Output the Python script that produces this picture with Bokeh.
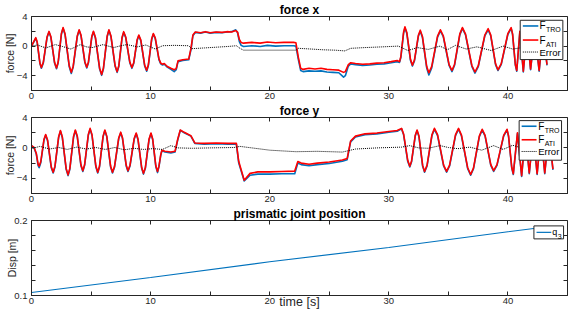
from bokeh.plotting import figure
from bokeh.models import Range1d, FixedTicker, LinearAxis, Label
from bokeh.layouts import column
from bokeh.embed import file_html
from bokeh.resources import INLINE

# ---------------- data ----------------
# force x : time, F_ATI (red), F_TRO (blue)
t_fx = [0.0, 0.36, 0.48, 0.71, 0.83, 0.99, 1.31, 1.47, 1.63, 1.94, 2.1, 2.24, 2.51, 2.65, 2.82, 3.17, 3.34, 3.5, 3.84, 4.0,
        4.16, 4.48, 4.64, 4.78, 5.06, 5.2, 5.37, 5.72, 5.89, 6.04, 6.35, 6.5, 6.67, 7.02, 7.19, 7.33, 7.6, 7.74, 7.91, 8.26,
        8.43, 8.58, 8.87, 9.01, 9.18, 9.5, 9.67, 9.81, 10.09, 10.23, 10.39, 10.7,
        10.85, 11.0, 11.15, 11.4, 11.7, 11.98, 12.15, 12.3, 12.7, 13.2, 13.4, 13.55, 13.75,
        14.2, 14.6, 15.0, 15.5, 16.0, 16.4, 16.8, 17.15, 17.3, 17.45, 17.6, 17.8, 18.5, 19.2, 19.8, 20.5, 21.2, 22.0, 22.2,
        22.4, 22.6, 22.8, 23.3, 23.8, 24.3, 24.8, 25.3, 25.8, 26.2, 26.35, 26.6, 26.8, 27.2, 27.8, 28.4, 29.0, 29.6, 30.2, 30.7, 30.9,
        31.01, 31.24, 31.35, 31.51, 31.82, 31.98, 32.15, 32.48, 32.64, 32.82, 33.18, 33.36, 33.6, 34.09, 34.33,
        34.57, 35.06, 35.3, 35.52, 35.96, 36.18, 36.44, 36.97, 37.23, 37.51, 38.06, 38.34, 38.55, 38.96, 39.16,
        39.44, 39.99, 40.27, 40.39, 40.62, 40.74, 41.0, 41.29, 41.6, 41.9, 42.25, 42.62, 42.95, 43.28]
fx_ati = [0.0, 1.14, 0.55, -2.31, -2.9, -2.19, 1.27, 1.98, 1.26, -2.23, -2.95, -2.15, 1.7, 2.5, 1.62, -2.67, -3.55, -2.71, 1.36, 2.2,
          1.46, -2.11, -2.85, -2.14, 1.29, 2.0, 1.15, -2.99, -3.84, -2.96, 1.32, 2.2, 1.38, -2.63, -3.45, -2.66, 1.16, 1.95, 1.24, -2.19,
          -2.9, -2.26, 0.86, 1.5, 0.81, -2.56, -3.25, -2.53, 0.98, 1.7, 1.12, -1.72,
          -2.3, -2.45, -2.35, -2.75, -3.0, -3.2, -3.05, -2.0, -1.85, -1.75, -0.2, 1.5, 1.9,
          1.8, 1.95, 1.8, 1.9, 1.85, 1.95, 1.9, 2.1, 1.9, 0.9, 0.5, 0.4, 0.5, 0.4, 0.55, 0.45, 0.5, 0.5, 0.45,
          -1.5, -3.0, -3.15, -3.0, -3.1, -3.0, -3.15, -3.2, -3.25, -3.55, -3.45, -2.5, -2.25, -2.35, -2.45, -2.4, -2.3, -2.25, -2.1, -1.95, -2.1,
          -1.41, 1.91, 2.6, 1.85, -1.82, -2.57, -1.88, 1.46, 2.15, 1.31, -2.76, -3.6, -2.75, 1.35, 2.2,
          1.4, -2.5, -3.3, -2.45, 1.65, 2.5, 1.62, -2.62, -3.5, -2.65, 1.5, 2.35, 1.54, -2.39, -3.2,
          -2.37, 1.67, 2.5, 1.65, -2.45, -3.3, 2.0, -3.4, 2.0, -3.1, 2.0, -3.3, 2.0, -2.5]
fx_tro = [0.0, 1.05, 0.45, -2.4, -3.0, -2.3, 1.17, 1.9, 1.16, -2.33, -3.05, -2.25, 1.6, 2.4, 1.52, -2.8, -3.7, -2.84, 1.26, 2.1,
          1.36, -2.21, -2.95, -2.24, 1.19, 1.9, 1.05, -3.1, -3.95, -3.06, 1.22, 2.1, 1.28, -2.73, -3.55, -2.76, 1.06, 1.85, 1.14, -2.29,
          -3.0, -2.36, 0.76, 1.4, 0.71, -2.68, -3.4, -2.65, 0.88, 1.6, 1.02, -1.82,
          -2.4, -2.55, -2.45, -2.85, -3.15, -3.45, -3.2, -2.1, -1.95, -1.85, -0.4, 1.4, 1.85,
          1.75, 1.9, 1.75, 1.85, 1.8, 1.9, 1.95, 2.2, 1.8, 0.6, 0.1, -0.05, 0.05, -0.05, 0.1, 0.0, 0.05, 0.05, 0.0,
          -1.8, -3.3, -3.45, -3.35, -3.4, -3.35, -3.5, -3.55, -3.6, -4.2, -4.0, -2.7, -2.4, -2.5, -2.6, -2.55, -2.45, -2.4, -2.25, -2.1, -2.2,
          -1.55, 1.75, 2.45, 1.7, -1.95, -2.7, -2.0, 1.32, 2.0, 1.18, -2.95, -3.9, -2.95, 1.22, 2.05,
          1.28, -2.62, -3.45, -2.58, 1.52, 2.4, 1.5, -2.75, -3.65, -2.78, 1.38, 2.2, 1.42, -2.5, -3.3,
          -2.48, 1.55, 2.4, 1.55, -2.55, -3.4, 1.9, -3.5, 1.9, -3.2, 1.9, -3.4, 1.9, -2.6]
t_ex = [0.0, 0.5, 1.2, 2.0, 2.6, 3.3, 4.1, 4.6, 5.1, 6.0, 6.9, 7.5, 8.0, 8.9, 9.6, 10.4, 11.0, 12.0, 13.2, 13.45,
        14.5, 15.5, 16.5, 17.2, 17.5, 17.8, 19.0, 20.5, 22.2, 22.4, 23.5, 24.5, 25.5, 26.3, 26.8, 28.0, 29.5, 30.8, 31.6, 32.4,
        33.3, 34.3, 34.9, 35.6, 36.5, 37.4, 38.6, 39.6, 40.4, 41.2, 42.0, 42.8, 43.28]
ex = [0.0, 0.15, -0.25, 0.2, -0.05, -0.4, 0.2, -0.1, -0.2, 0.2, -0.2, 0.05, 0.2, -0.1, 0.15, -0.4, 0.05, 0.1, 0.05, -0.35,
      -0.25, -0.15, -0.05, 0.05, -0.3, -0.55, -0.55, -0.55, -0.55, -0.3, -0.4, -0.5, -0.55, -0.65, -0.3, -0.2, -0.1, 0.0, -0.6, -0.2,
      -0.45, 0.0, -0.5, 0.1, -0.4, -0.1, -0.6, 0.0, -0.4, -0.2, -0.1, -0.3, -0.2]

# force y
t_fy = [0.0, 0.22, 0.4, 0.55, 0.64, 0.78, 1.05, 1.19, 1.35, 1.66, 1.82, 1.97, 2.28, 2.43, 2.59, 2.91, 3.07, 3.22, 3.53, 3.68,
        3.84, 4.15, 4.31, 4.46, 4.77, 4.92, 5.08, 5.4, 5.56, 5.71, 6.01, 6.16, 6.32, 6.64, 6.8, 6.97, 7.32, 7.49, 7.64, 7.95,
        8.1, 8.27, 8.62, 8.79, 8.94, 9.25, 9.4, 9.56, 9.87, 10.03, 10.17, 10.44, 10.58, 10.7, 10.85,
        10.95, 11.2, 11.7, 12.05, 12.27, 12.49, 12.82, 13.38, 13.71, 14.5, 15.5, 16.5, 17.2, 17.4, 17.86, 18.35, 19.0, 20.0, 21.0, 22.1,
        22.36, 22.64, 23.3, 24.0, 25.0, 26.1, 26.5, 26.79, 27.2, 28.0, 29.0, 30.0, 30.7, 31.07,
        31.24, 31.59, 31.76, 31.91, 32.22, 32.37, 32.53, 32.84, 33.0, 33.21, 33.62, 33.83, 34.09, 34.6, 34.85,
        35.1, 35.6, 35.85, 36.1, 36.62, 36.87, 37.11, 37.6, 37.84, 38.08, 38.56, 38.8, 39.08, 39.64, 39.92,
        40.05, 40.32, 40.45, 40.8, 41.15, 41.47, 41.79, 42.12, 42.45, 42.77, 43.09, 43.43, 43.78]
fy_ati = [0.3, 0.05, -0.7, -2.1, -2.4, -1.79, 1.14, 1.75, 1.03, -2.48, -3.2, -2.4, 1.48, 2.28, 1.43, -2.7, -3.55, -2.69, 1.5, 2.36,
          1.58, -2.22, -3.0, -2.19, 1.76, 2.57, 1.73, -2.36, -3.2, -2.39, 1.55, 2.36, 1.55, -2.39, -3.2, -2.43, 1.3, 2.07, 1.33, -2.26,
          -3.0, -2.28, 1.23, 1.95, 1.18, -2.58, -3.35, -2.58, 1.18, 1.95, 1.21, -2.36, -3.1, -2.4, -0.9,
          -0.3, -0.45, -0.55, -0.45, 1.1, 2.35, 2.05, 1.6, 0.65, 0.6, 0.65, 0.6, 0.6, -1.8, -4.25, -3.35, -3.15, -3.15, -3.1, -3.05,
          -1.8, -2.0, -2.15, -2.0, -1.85, -1.6, -1.4, 0.9, 1.55, 1.85, 1.95, 2.15, 2.3, 2.57,
          1.84, -1.67, -2.4, -1.71, 1.67, 2.36, 1.56, -2.3, -3.1, -2.27, 1.74, 2.57, 1.74, -2.27, -3.1,
          -2.27, 1.74, 2.57, 1.68, -2.61, -3.5, -2.63, 1.58, 2.45, 1.65, -2.2, -3.0, -2.2, 1.65, 2.45,
          1.6, -2.55, -3.4, 2.0, -3.65, 2.0, -3.3, 2.0, -3.4, 2.0, -3.3, 2.0, -2.8]
fy_tro = [0.3, 0.0, -0.8, -2.3, -2.6, -1.95, 1.04, 1.65, 0.93, -2.6, -3.3, -2.5, 1.38, 2.2, 1.33, -2.82, -3.65, -2.8, 1.4, 2.25,
          1.48, -2.34, -3.1, -2.3, 1.66, 2.45, 1.63, -2.47, -3.3, -2.5, 1.45, 2.25, 1.45, -2.5, -3.3, -2.54, 1.2, 1.95, 1.23, -2.37,
          -3.1, -2.39, 1.13, 1.85, 1.08, -2.69, -3.45, -2.69, 1.08, 1.85, 1.11, -2.5, -3.25, -2.5, -1.0,
          -0.35, -0.55, -0.65, -0.55, 1.0, 2.3, 2.0, 1.55, 0.6, 0.5, 0.55, 0.5, 0.5, -2.0, -4.35, -3.6, -3.45, -3.45, -3.4, -3.4,
          -2.0, -2.2, -2.35, -2.2, -2.05, -1.75, -1.55, 0.8, 1.45, 1.75, 1.85, 2.05, 2.2, 2.5,
          1.72, -1.8, -2.5, -1.82, 1.56, 2.25, 1.45, -2.42, -3.2, -2.38, 1.62, 2.45, 1.62, -2.38, -3.2,
          -2.38, 1.62, 2.45, 1.56, -2.72, -3.6, -2.74, 1.47, 2.35, 1.54, -2.3, -3.1, -2.3, 1.54, 2.35,
          1.5, -2.66, -3.5, 1.9, -3.75, 1.9, -3.4, 1.9, -3.5, 1.9, -3.4, 1.9, -2.9]
t_ey = [0.0, 0.7, 1.5, 2.3, 3.0, 3.8, 4.6, 5.4, 6.2, 7.0, 7.8, 8.6, 9.4, 10.2, 11.0, 11.7, 12.3, 13.5, 15.0, 17.0,
        17.5, 18.5, 20.0, 22.2, 24.0, 26.1, 27.2, 29.0, 31.07, 31.76, 32.5, 33.3, 34.3, 35.0, 35.8, 36.8, 37.8, 38.8, 39.6, 40.4,
        41.3, 42.2, 43.0, 43.78]
ey = [-0.1, 0.2, -0.15, 0.05, -0.2, 0.1, -0.15, 0.05, -0.2, 0.05, -0.25, -0.05, -0.2, -0.1, -0.2, 0.3, 0.0, -0.05, 0.0, 0.05,
      0.2, 0.0, -0.3, -0.5, -0.45, -0.55, -0.15, 0.0, 0.1, 0.3, 0.0, -0.05, 0.3, 0.05, -0.1, 0.1, -0.3, 0.3, -0.2, 0.35,
      -0.1, 0.1, -0.2, 0.0]

# prismatic joint position
t_q = [0.0, 10.0, 20.0, 30.0, 40.0, 43.5]
q3 = [0.104, 0.124, 0.145, 0.164, 0.185, 0.192]

# ticks
x_ticks = [0, 10, 20, 30, 40]
x_minor = [5, 15, 25, 35, 45]
f_ticks = [-4, 0, 4]
f_minor = [-6, -2, 2]
d_ticks = [0.1, 0.2]
d_minor = [0.12, 0.14, 0.16, 0.18]

# ---------------- styling ----------------
FONT = "Liberation Sans"
AX = "#262626"
BLUE = "#0072BD"
RED = "#FF0000"
LW = 1.6


def style_axis(ax, ticks, minor, standoff=2):
    ax.ticker = FixedTicker(ticks=ticks, minor_ticks=minor)
    ax.axis_line_color = AX
    ax.axis_line_width = 1
    ax.major_tick_line_color = AX
    ax.minor_tick_line_color = AX
    ax.major_tick_in = 4
    ax.major_tick_out = 0
    ax.minor_tick_in = 4
    ax.minor_tick_out = 0
    ax.major_label_text_font = FONT
    ax.major_label_text_color = AX
    ax.major_label_text_font_size = "9.5px"
    ax.major_label_standoff = standoff


def panel(height, yr, yt, ym, title, ylabel, lab_standoff):
    p = figure(width=568, height=height, x_range=Range1d(0, 45), y_range=Range1d(*yr),
               output_backend="svg", toolbar_location=None, tools="",
               min_border_left=24, min_border_right=1, min_border_top=0, min_border_bottom=0)
    p.background_fill_color = "white"
    p.border_fill_color = "white"
    p.outline_line_color = AX
    p.xgrid.visible = False
    p.ygrid.visible = False
    p.title.text = title
    p.title.align = "center"
    p.title.text_font = FONT
    p.title.text_font_size = "12px"
    p.title.text_font_style = "bold"
    p.title.text_color = "black"
    p.title.standoff = 0
    p.title.offset = 0
    xb = p.below[0]
    yl = p.left[0]
    style_axis(xb, x_ticks, x_minor)
    style_axis(yl, yt, ym, 4)
    yl.axis_label = ylabel
    yl.axis_label_text_font = FONT
    yl.axis_label_text_font_size = "10.5px"
    yl.axis_label_text_font_style = "normal"
    yl.axis_label_text_color = AX
    yl.axis_label_standoff = lab_standoff
    # box ticks on the top and right edges (tick marks only, drawn at the frame edge)
    top_ax = LinearAxis(fixed_location=yr[1])
    style_axis(top_ax, [], x_ticks + x_minor, 0)
    p.add_layout(top_ax, "above")
    right_ax = LinearAxis(fixed_location=45)
    style_axis(right_ax, [], yt + ym, 0)
    p.add_layout(right_ax, "right")
    return p, xb


def legend_box(p, left, right, top, bottom):
    p.quad(left=[left], right=[right], top=[top], bottom=[bottom],
           fill_color="white", fill_alpha=1.0, line_color=AX, line_width=1, level="annotation")


def legend_text(p, x, y, text, size, sub=None, sub_dx=0):
    p.add_layout(Label(x=x, y=y, text=text, text_font=FONT, text_font_size=size, text_color="black",
                       text_baseline="middle", level="overlay"))
    if sub:
        p.add_layout(Label(x=x, y=y, x_offset=sub_dx, y_offset=-4, text=sub, text_font=FONT,
                           text_font_size="7px", text_color="black", text_baseline="middle", level="overlay"))


def force_panel(height, title, t, ati, tro, te, err, lg):
    p, _ = panel(height, (-6, 4), f_ticks, f_minor, title, "force [N]", -2)
    p.line(t, tro, line_color=BLUE, line_width=LW, line_join="round")
    p.line(t, ati, line_color=RED, line_width=LW, line_join="round")
    p.line(te, err, line_color="black", line_width=1, line_dash="1 1")
    bl, br, bt, bb, lx0, lx1, tx, r1, r2, r3 = lg
    legend_box(p, bl, br, bt, bb)
    p.segment(x0=[lx0], y0=[r1], x1=[lx1], y1=[r1], line_color=BLUE, line_width=LW, level="overlay")
    p.segment(x0=[lx0], y0=[r2], x1=[lx1], y1=[r2], line_color=RED, line_width=LW, level="overlay")
    p.segment(x0=[lx0], y0=[r3], x1=[lx1], y1=[r3], line_color="black", line_width=1, line_dash="1 1",
              level="overlay")
    legend_text(p, tx, r1, "F", "10px", "TRO", 6.5)
    legend_text(p, tx, r2, "F", "10px", "ATI", 6.5)
    legend_text(p, tx, r3, "Error", "9.5px")
    return p


p1 = force_panel(101, "force x", t_fx, fx_ati, fx_tro, t_ex, ex,
                 (41.03, 44.61, 3.49, -1.82, 41.25, 42.55, 42.65, 2.72, 0.82, -0.8))
p2 = force_panel(103, "force y", t_fy, fy_ati, fy_tro, t_ey, ey,
                 (40.94, 44.5, 3.59, -1.62, 41.15, 42.4, 42.54, 2.85, 1.07, -0.47))

p3, xa = panel(107, (0.1, 0.2), d_ticks, d_minor, "prismatic joint position", "Disp [m]", -7)
p3.line(t_q, q3, line_color=BLUE, line_width=1.2)
legend_box(p3, 42.18, 44.67, 0.1928, 0.1755)
p3.segment(x0=[42.4], y0=[0.1842], x1=[43.64], y1=[0.1842], line_color=BLUE, line_width=1.2, level="overlay")
legend_text(p3, 43.72, 0.1842, "q", "9px", "3", 5.5)
xa.axis_label = "time [s]"
xa.axis_label_text_font = FONT
xa.axis_label_text_font_size = "12.5px"
xa.axis_label_text_font_style = "normal"
xa.axis_label_text_color = AX
xa.axis_label_standoff = -12

layout = column(p1, p2, p3, spacing=0)
open("out.html", "w").write(file_html(layout, INLINE))
